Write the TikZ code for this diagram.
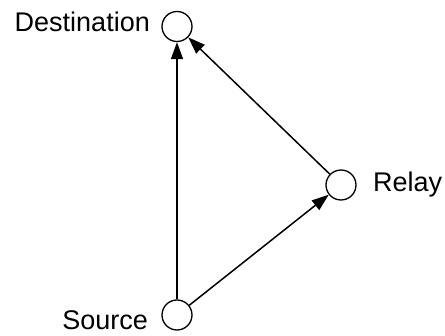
\documentclass[tikz,border=0pt]{standalone}
\usepackage{fontspec}
\setmainfont{Liberation Sans}
\usetikzlibrary{arrows.meta}
\begin{document}
\begin{tikzpicture}[x=1pt,y=-1pt,
  station/.style={circle, draw, line width=1.3pt, minimum size=30pt, inner sep=0pt},
  lbl/.style={inner sep=0pt, font=\fontsize{27}{32}\selectfont, text=black},
  link/.style={line width=1.5pt, -{Triangle[length=17pt,width=12pt]}}]
  \useasboundingbox (0,0) rectangle (445,336);
  % stations
  \node[station] (dst) at (177,26.5) {};
  \node[station] (rly) at (341,185) {};
  \node[station] (src) at (177,315) {};
  % labels
  \node[lbl, anchor=base east] (dstlab) at (150,32) {Destination};
  \node[lbl, anchor=base west] (rlylab) at (373,192) {Relay};
  \node[lbl, anchor=base east] (srclab) at (148,330) {Source};
  % links
  \draw[link] (src) -- (dst);
  \draw[link] (src) -- (rly);
  \draw[link] (rly) -- (dst);
\end{tikzpicture}
\end{document}
